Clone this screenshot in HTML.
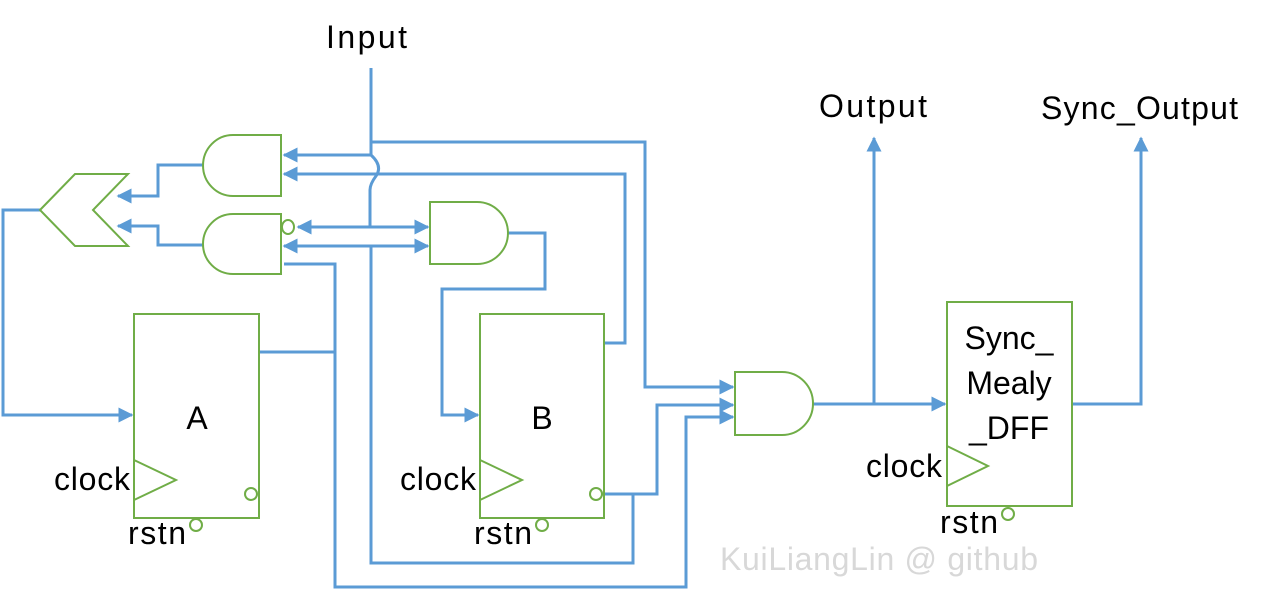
<!DOCTYPE html>
<html><head><style>
html,body{margin:0;padding:0;background:#fff;}
svg{display:block;}
text{font-family:"Liberation Sans",sans-serif;fill:#000;}
</style></head><body>
<svg width="1262" height="604" viewBox="0 0 1262 604" xmlns="http://www.w3.org/2000/svg">
<defs>
<marker id="ar" viewBox="0 0 10 10" refX="9" refY="5" markerWidth="5" markerHeight="5" orient="auto-start-reverse" markerUnits="strokeWidth">
<path d="M0,0 L10,5 L0,10 z" fill="#5b9bd5"/>
</marker>
</defs>
<g fill="none" stroke="#5b9bd5" stroke-width="3">
<path d="M371,68 V155 Q383,166 376,176 Q370,184 370,190 V227"/>
<path d="M371,142 H645 V387 H733" marker-end="url(#ar)"/>
<path d="M371,155 H284" marker-end="url(#ar)"/>
<path d="M604,343 H625 V174 H284" marker-end="url(#ar)"/>
<path d="M298,227 H428" marker-start="url(#ar)" marker-end="url(#ar)"/>
<path d="M284,246 H428" marker-start="url(#ar)" marker-end="url(#ar)"/>
<path d="M371,246 V563 H633 V494"/>
<path d="M602,494 H657 V405 H733" marker-end="url(#ar)"/>
<path d="M260,352 H335"/>
<path d="M284,264 H335 V587 H686 V417 H733" marker-end="url(#ar)"/>
<path d="M508,233 H545 V289 H442 V415 H478" marker-end="url(#ar)"/>
<path d="M203,165 H158 V196 H118" marker-end="url(#ar)"/>
<path d="M203,245 H158 V226 H118" marker-end="url(#ar)"/>
<path d="M40,210 H3 V415 H132" marker-end="url(#ar)"/>
<path d="M813,404 H945" marker-end="url(#ar)"/>
<path d="M874,404 V138" marker-end="url(#ar)"/>
<path d="M1072,404 H1141 V138" marker-end="url(#ar)"/>
</g>
<g fill="none" stroke="#70ad47" stroke-width="2">
<path d="M40,210 L75,174 H128 L93,210 L128,246 H75 Z"/>
<path d="M281,135 H233 A30,30.5 0 0 0 233,196 H281 Z"/>
<path d="M281,214 H233 A30,30 0 0 0 233,274 H281 Z"/>
<ellipse cx="288" cy="227" rx="6" ry="7"/>
<path d="M430,202 H477 A31,31 0 0 1 477,264 H430 Z"/>
<path d="M735,372 H782 A31,31.5 0 0 1 782,435 H735 Z"/>
<rect x="134" y="314" width="125" height="204"/>
<path d="M134,460 L176,480 L134,500"/>
<circle cx="251" cy="494" r="6"/>
<circle cx="196" cy="525" r="6"/>
<rect x="480" y="314" width="124" height="204"/>
<path d="M480,460 L522,480 L480,500"/>
<circle cx="596" cy="494" r="6"/>
<circle cx="542" cy="525" r="6"/>
<rect x="947" y="302" width="125" height="204"/>
<path d="M947,446 L988,466 L947,486"/>
<circle cx="1008" cy="514" r="6"/>
</g>
<g font-size="32">
<text x="326" y="48" textLength="81">Input</text>
<text x="819" y="117" textLength="108">Output</text>
<text x="1041" y="119" textLength="197">Sync_Output</text>
<text x="197" y="429" text-anchor="middle">A</text>
<text x="542" y="429" text-anchor="middle">B</text>
<text x="54" y="490" textLength="76">clock</text>
<text x="400" y="490" textLength="76">clock</text>
<text x="866" y="477" textLength="76">clock</text>
<text x="128" y="544" textLength="58">rstn</text>
<text x="474" y="544" textLength="58">rstn</text>
<text x="940" y="533" textLength="58">rstn</text>
<text x="1009" y="349" text-anchor="middle">Sync_</text>
<text x="1009" y="394" text-anchor="middle">Mealy</text>
<text x="1009" y="439" text-anchor="middle">_DFF</text>
<text x="720" y="570" textLength="318" style="fill:#d8d8d8">KuiLiangLin @ github</text>
</g>
</svg>
</body></html>
